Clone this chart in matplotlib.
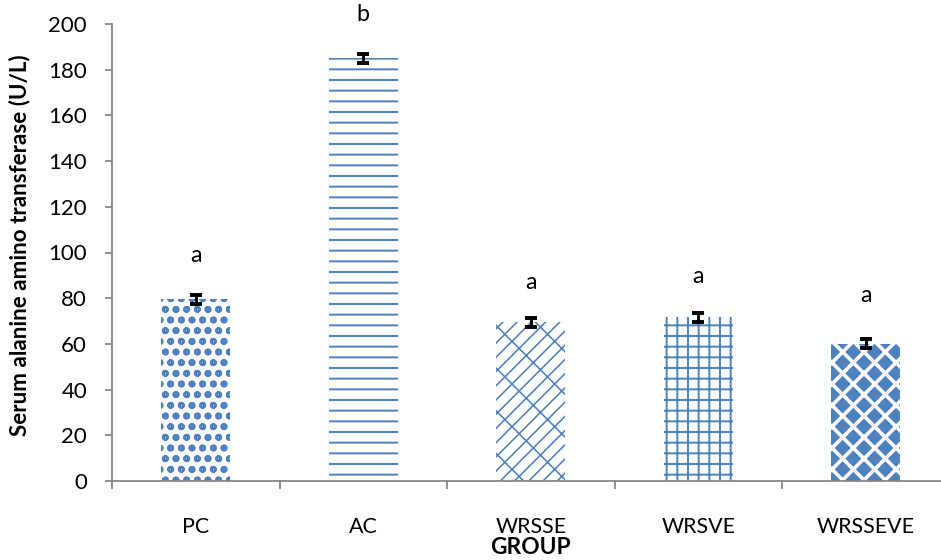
import numpy as np
import matplotlib
matplotlib.use('Agg')
import matplotlib.pyplot as plt

groups = ['PC', 'AC', 'WRSSE', 'WRSVE', 'WRSSEVE']
alt_values = [79.5, 185.0, 69.5, 71.6, 60.0]
alt_errors = [2.0, 2.0, 2.0, 2.0, 2.0]
letters = ['a', 'b', 'a', 'a', 'a']
letter_y = [98.5, 204.0, 86.7, 89.3, 81.0]
yticks = [0, 20, 40, 60, 80, 100, 120, 140, 160, 180, 200]

blue = '#4F81BD'
axis_gray = '#868686'
# hatch, face, hatch colour, hatch linewidth
styles = [
  ('oo', 'white', blue, 1.5),
  ('--', 'white', blue, 1.1),
  ('///\\', 'white', blue, 0.9),
  ('++', 'white', blue, 1.1),
  ('xx', blue, 'white', 2.0),
]

plt.rcParams['font.family'] = ['Lato', 'DejaVu Sans']

fig = plt.figure(figsize=(941/128, 560/128), dpi=128)
ax = fig.add_axes([112/941, 1-481/560, 837.5/941, 457/560])

x = np.arange(len(groups))
for i in range(len(groups)):
  hatch, face, hcol, hlw = styles[i]
  with plt.rc_context({'hatch.linewidth': hlw}):
    bars = ax.bar(x[i], alt_values[i], width=0.41, color=face,
                  edgecolor=hcol, linewidth=0, hatch=hatch, zorder=2)
  for b in bars:
    if hasattr(b, 'set_hatch_linewidth'):
      b.set_hatch_linewidth(hlw)

ax.errorbar(x, alt_values, yerr=alt_errors, fmt='none', ecolor='black',
            elinewidth=1.6, capsize=3.5, capthick=2.2, zorder=3)

for i in range(len(groups)):
  ax.text(x[i], letter_y[i], letters[i], ha='center', va='center', fontsize=13)

ax.set_xlim(-0.5, 4.5)
ax.set_ylim(0, 200)
ax.set_yticks(yticks)
ax.set_xticks(x)
ax.set_xticklabels(groups)
ax.set_xticks(np.arange(-0.5, 4.6, 1.0), minor=True)
ax.tick_params(axis='x', which='major', length=0, pad=20, labelsize=12)
ax.tick_params(axis='x', which='minor', length=4.5, color=axis_gray, width=1)
ax.tick_params(axis='y', length=4, color=axis_gray, width=1, pad=10, labelsize=12.5)

for s in ['top', 'right']:
  ax.spines[s].set_visible(False)
for s in ['left', 'bottom']:
  ax.spines[s].set_color(axis_gray)
  ax.spines[s].set_linewidth(1)

ax.set_ylabel('Serum alanine amino transferase (U/L)', fontsize=12.6, fontweight='bold')
ax.yaxis.set_label_coords(-82/837.5, 0.515)
fig.text(530/941, 1-547/560, 'GROUP', ha='center', va='center',
         fontsize=12.8, fontweight='bold')

fig.savefig('out.png', dpi=128)
